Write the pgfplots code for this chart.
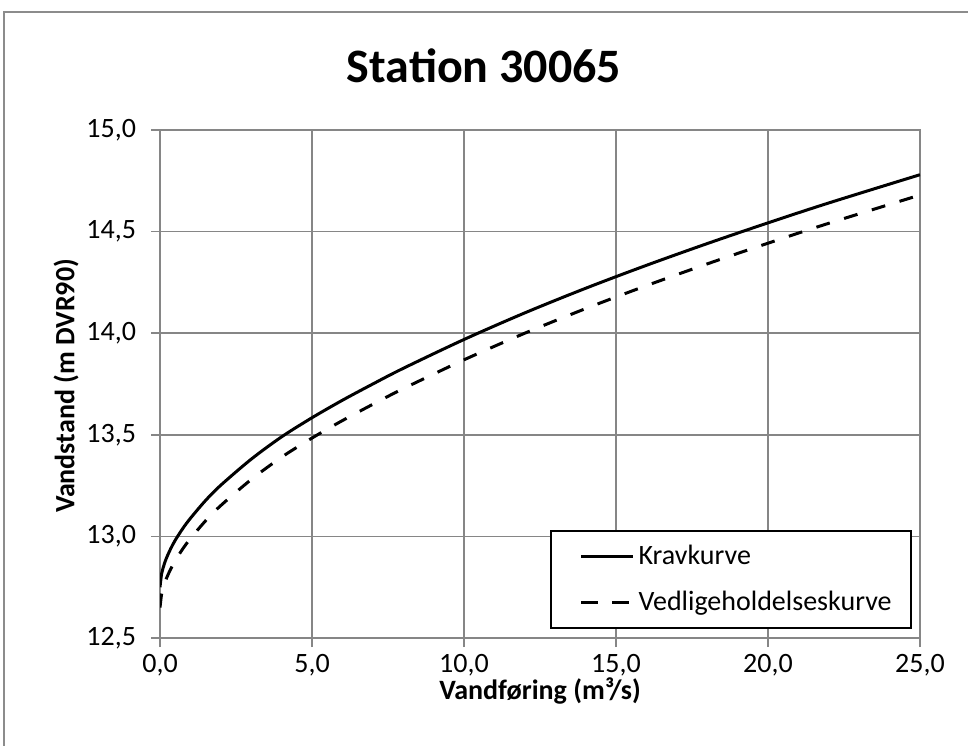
\documentclass[border=0pt]{standalone}
\usepackage{fontspec}
\setmainfont{Carlito}
\usepackage{pgfplots}
\pgfplotsset{compat=1.18}
\definecolor{gridgray}{RGB}{134,134,134}
\definecolor{framegray}{RGB}{140,140,140}
\begin{document}
\begin{tikzpicture}
\useasboundingbox (0,0) rectangle (484pt,372.5pt);
\draw[color=framegray, line width=1pt] (2pt,-20pt) rectangle (520pt,366.5pt);
\node[font=\fontsize{24}{28}\selectfont\bfseries] at (242pt,339.5pt) {Station 30065};
\node[font=\fontsize{14}{16}\selectfont\bfseries] at (270pt,27pt) {Vandføring (m³/s)};
\node[font=\fontsize{14}{16}\selectfont\bfseries, rotate=90] at (33pt,179.5pt) {Vandstand (m DVR90)};
\begin{axis}[
 at={(80pt,53.5pt)}, anchor=south west,
 scale only axis, width=380pt, height=254pt,
 xmin=0, xmax=25, ymin=12.5, ymax=15,
 xtick={0,5,10,15,20,25}, ytick={12.5,13,13.5,14,14.5,15},
 grid=major, major grid style={gridgray, line width=0.75pt},
 axis line style={gridgray, line width=0.75pt},
 tick style={gridgray, line width=0.75pt},
 tick align=outside, major tick length=4.5pt,
 xtick pos=bottom, ytick pos=left,
 ticklabel style={font=\fontsize{14}{16}\selectfont,
   /pgf/number format/fixed, /pgf/number format/fixed zerofill,
   /pgf/number format/precision=1, /pgf/number format/use comma,
   /pgf/number format/assume math mode=true},
 yticklabel style={xshift=-4pt},
 legend style={at={(0.989,0.018)}, anchor=south east, draw=black, line width=1pt,
   font=\fontsize{14}{16}\selectfont, inner xsep=7.5pt, inner ysep=5pt, row sep=8pt},
 legend cell align=left,
]
\addplot[black, line width=1.5pt, smooth,
  legend image code/.code={\path (0pt,0pt); \draw[black, line width=1.5pt] (7pt,0pt) -- (33pt,0pt);}] coordinates {
(0,12.750) (0.05,12.814) (0.1,12.844) (0.2,12.889) (0.35,12.939) (0.5,12.981)
(0.75,13.039) (1,13.089) (1.5,13.177) (2,13.252) (3,13.380) (4,13.490)
(5,13.584) (6,13.670) (7,13.750) (8,13.827) (10,13.969) (12,14.100)
(14,14.221) (16,14.334) (18,14.441) (20,14.543) (22,14.641) (25,14.780)};
\addlegendentry{Kravkurve}
\addplot[black, line width=1.5pt, smooth, dash pattern=on 7pt off 7.5pt,
  legend image code/.code={\path (0pt,0pt); \draw[black, line width=1.5pt, dash pattern=on 8.5pt off 7pt] (7pt,0pt) -- (31pt,0pt);}] coordinates {
(0,12.650) (0.05,12.714) (0.1,12.744) (0.2,12.789) (0.35,12.839) (0.5,12.881)
(0.75,12.939) (1,12.989) (1.5,13.077) (2,13.152) (3,13.280) (4,13.390)
(5,13.484) (6,13.570) (7,13.650) (8,13.727) (10,13.869) (12,14.000)
(14,14.121) (16,14.234) (18,14.341) (20,14.443) (22,14.541) (25,14.680)};
\addlegendentry{Vedligeholdelseskurve}
\end{axis}
\end{tikzpicture}
\end{document}
